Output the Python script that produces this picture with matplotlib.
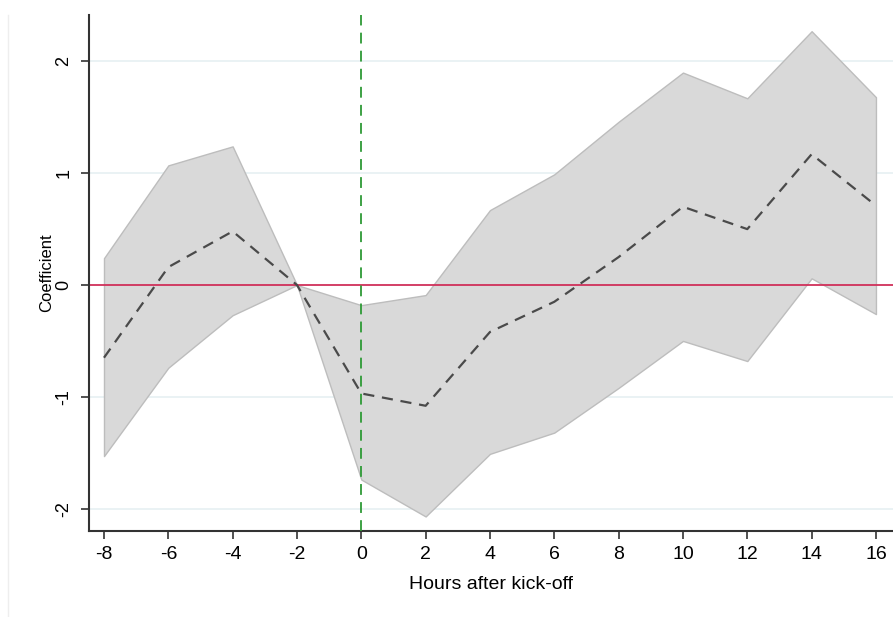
import matplotlib.pyplot as plt
from matplotlib.lines import Line2D

plt.rcParams['font.family'] = ['Liberation Sans', 'DejaVu Sans']
plt.rcParams['axes.unicode_minus'] = False

hours = [-8, -6, -4, -2, 0, 2, 4, 6, 8, 10, 12, 14, 16]
coef = [-0.65, 0.16, 0.48, 0.0, -0.97, -1.08, -0.42, -0.15, 0.25, 0.70, 0.50, 1.17, 0.71]
upper = [0.24, 1.07, 1.24, 0.0, -0.18, -0.09, 0.67, 0.99, 1.46, 1.90, 1.67, 2.27, 1.68]
lower = [-1.53, -0.74, -0.27, 0.0, -1.74, -2.07, -1.51, -1.32, -0.92, -0.50, -0.68, 0.06, -0.26]
yticks = [-2, -1, 0, 1, 2]

fig = plt.figure(figsize=(8.93, 6.17), dpi=100)
ax = fig.add_axes([89 / 893, 1 - 531 / 617, 1 - 89 / 893, (531 - 15) / 617])

# faint outer frame line on the left
fig.add_artist(Line2D([8 / 893, 8 / 893], [0, 1 - 15 / 617], color='#eeeeee', lw=1))

for y in yticks:
    if y != 0:
        ax.axhline(y, color='#e6f0f2', lw=1.2, zorder=0)

ax.fill_between(hours, lower, upper, facecolor='#d9d9d9', edgecolor='#bdbdbd', lw=1, zorder=1)
ax.axhline(0, color='#d0305a', lw=1.3, zorder=2)
ax.axvline(0, color='#2e9a36', lw=1.3, ls=(0, (6, 4)), zorder=3)
ax.plot(hours, coef, color='#4a4a4a', lw=1.6, ls=(0, (5, 3.5)), zorder=4)

ax.set_xlim(-8.466, 16.53)
ax.set_ylim(-2.20, 2.415)
ax.set_xticks(hours)
ax.set_yticks(yticks)
ax.set_yticklabels([str(y) for y in yticks], rotation=90, va='center')
ax.tick_params(axis='x', labelsize=14, length=6, width=1.2, colors='#333333', labelcolor='black', pad=5)
ax.tick_params(axis='y', labelsize=13, length=6, width=1.2, colors='#333333', labelcolor='black', pad=6)

for s in ['top', 'right']:
    ax.spines[s].set_visible(False)
for s in ['left', 'bottom']:
    ax.spines[s].set_color('#333333')
    ax.spines[s].set_linewidth(1.5)

ax.set_xlabel('Hours after kick-off', fontsize=14, labelpad=9)
ax.set_ylabel('Coefficient', fontsize=12, labelpad=1)

fig.savefig('out.png', dpi=100)
